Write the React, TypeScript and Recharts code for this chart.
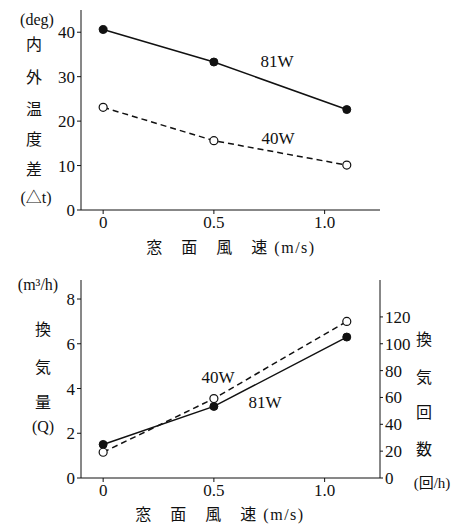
import { LineChart, Line, XAxis, YAxis } from 'recharts'

// wind speed at the window face (m/s)
const speeds = [0, 0.5, 1.1]
const xTicks = [0, 0.5, 1.0]

// top: inside/outside temperature difference (deg)
const tempDiff81W = [40.6, 33.3, 22.6]
const tempDiff40W = [23.1, 15.6, 10.1]
const tempTicks = [0, 10, 20, 30, 40]

// bottom: ventilation volume (m3/h) and air changes (times/h)
const airflow81W = [1.5, 3.2, 6.3]
const airflow40W = [1.15, 3.55, 7.0]
const airflowTicks = [0, 2, 4, 6, 8]
const changeTicks = [0, 20, 40, 60, 80, 100, 120]

const FONT = '"Liberation Serif", "Noto Sans CJK JP", serif'
const INK = '#111'

const topData = speeds.map((s, i) => ({ speed: s, w81: tempDiff81W[i], w40: tempDiff40W[i] }))
const bottomData = speeds.map((s, i) => ({ speed: s, w81: airflow81W[i], w40: airflow40W[i] }))

const fmtX = (v: number) => (v === 0 ? '0' : v.toFixed(1))
const tick = { fontSize: 17, fill: INK, fontFamily: FONT }

function Tag({ x, y, text, size = 16, spacing = 0 }: { x: number; y: number; text: string; size?: number; spacing?: number }) {
  return (
    <div
      style={{
        position: 'absolute',
        left: x,
        top: y,
        transform: 'translate(-50%, -50%)',
        fontFamily: FONT,
        fontSize: size,
        color: INK,
        whiteSpace: 'pre',
        lineHeight: 1,
        letterSpacing: spacing,
      }}
    >
      {text}
    </div>
  )
}

const solidDot = { r: 4, fill: INK, stroke: INK, strokeWidth: 1, strokeDasharray: 'none' }
const openDot = { r: 4, fill: '#fff', stroke: INK, strokeWidth: 1.2, strokeDasharray: 'none' }

export default function App() {
  return (
    <div style={{ position: 'absolute', left: 0, top: 0, width: 454, height: 526, background: '#fff', fontFamily: FONT }}>
      <div style={{ position: 'absolute', left: 0, top: 0 }}>
        <LineChart width={454} height={260} data={topData} margin={{ top: 10, right: 74, left: 0, bottom: 0 }}>
          <XAxis
            dataKey="speed"
            type="number"
            domain={[-0.1, 1.25]}
            ticks={xTicks}
            tickFormatter={fmtX}
            tick={tick}
            tickSize={4}
            stroke={INK}
            height={50}
          />
          <YAxis
            domain={[0, 45]}
            ticks={tempTicks}
            interval={0}
            tick={tick}
            tickSize={4}
            stroke={INK}
            width={81}
          />
          <Line dataKey="w81" stroke={INK} strokeWidth={1.5} dot={solidDot} isAnimationActive={false} />
          <Line dataKey="w40" stroke={INK} strokeWidth={1.5} strokeDasharray="6 4" dot={openDot} isAnimationActive={false} />
        </LineChart>
      </div>

      <div style={{ position: 'absolute', left: 0, top: 260 }}>
        <LineChart width={454} height={266} data={bottomData} margin={{ top: 20, right: 0, left: 0, bottom: 0 }}>
          <XAxis
            dataKey="speed"
            type="number"
            domain={[-0.1, 1.25]}
            ticks={xTicks}
            tickFormatter={fmtX}
            tick={tick}
            tickSize={4}
            stroke={INK}
            height={48}
          />
          <YAxis
            yAxisId="q"
            domain={[0, 8.85]}
            ticks={airflowTicks}
            interval={0}
            tick={tick}
            tickSize={4}
            stroke={INK}
            width={81}
          />
          <YAxis
            yAxisId="n"
            orientation="right"
            type="number"
            domain={[0, 147.5]}
            allowDataOverflow
            ticks={changeTicks}
            interval={0}
            tick={tick}
            tickSize={3}
            stroke={INK}
            width={74}
          />
          <Line yAxisId="q" dataKey="w81" stroke={INK} strokeWidth={1.5} dot={solidDot} isAnimationActive={false} />
          <Line yAxisId="q" dataKey="w40" stroke={INK} strokeWidth={1.5} strokeDasharray="6 4" dot={openDot} isAnimationActive={false} />
        </LineChart>
      </div>

      {/* top chart labels */}
      <Tag x={37} y={20} text="(deg)" />
      <Tag x={34} y={45} text="内" />
      <Tag x={34} y={78} text="外" />
      <Tag x={34} y={110} text="温" />
      <Tag x={34} y={140} text="度" />
      <Tag x={34} y={170} text="差" />
      <Tag x={36} y={198} text="(△t)" />
      <Tag x={277} y={61} text="81W" size={17} />
      <Tag x={278} y={138} text="40W" size={17} />
      <Tag x={231} y={248} text="窓　面　風　速 (m/s)" spacing={1.5} />

      {/* bottom chart labels */}
      <Tag x={38} y={285} text="(m³/h)" />
      <Tag x={43} y={330} text="換" />
      <Tag x={43} y={368} text="気" />
      <Tag x={43} y={403} text="量" />
      <Tag x={43} y={427} text="(Q)" />
      <Tag x={424} y={340} text="換" />
      <Tag x={424} y={378} text="気" />
      <Tag x={424} y={413} text="回" />
      <Tag x={424} y={450} text="数" />
      <Tag x={432} y={483} text="(回/h)" size={15} />
      <Tag x={218} y={377} text="40W" size={17} />
      <Tag x={265} y={402} text="81W" size={17} />
      <Tag x={220} y={515} text="窓　面　風　速 (m/s)" spacing={1.5} />
    </div>
  )
}
